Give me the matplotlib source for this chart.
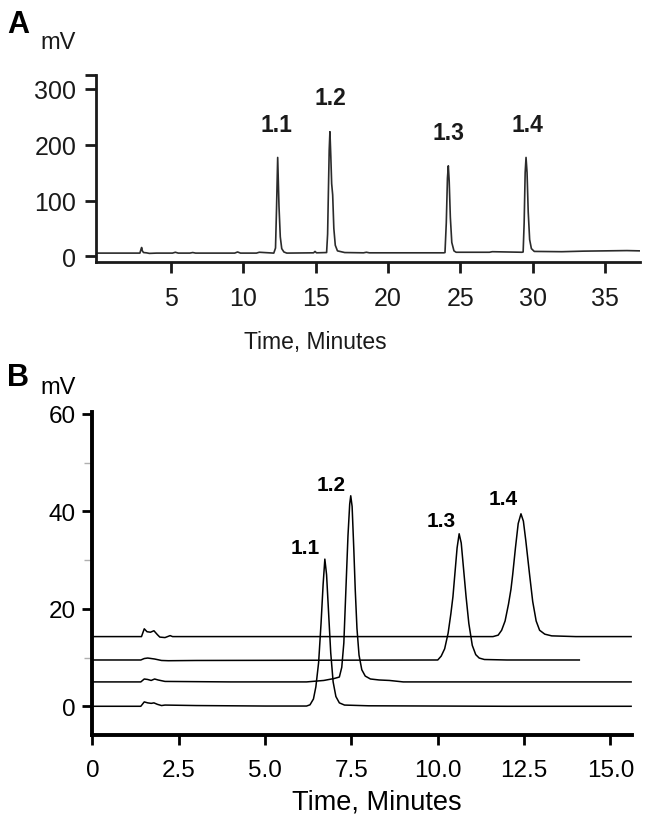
import numpy as np
import matplotlib.pyplot as plt

plt.rcParams["font.family"] = ["Liberation Sans", "DejaVu Sans"]

# ---- panel A: one chromatogram (min, mV)
a_time = [-0.15, 2.85, 2.93, 2.97, 3.02, 3.1, 3.3, 3.5, 4.0, 5.1, 5.3, 5.5,
          6.3, 6.5, 6.7, 9.4, 9.6, 9.8, 10.9, 11.1, 12.1,
          12.22, 12.29, 12.37, 12.46, 12.55, 12.65, 12.8, 13.0,
          14.85, 14.95, 15.05, 15.75, 15.82, 15.87, 15.93, 15.98, 16.04,
          16.1, 16.17, 16.25, 16.35, 16.5, 17.0, 18.3, 18.5, 18.7,
          23.85, 23.93, 24.02, 24.1, 24.16, 24.22, 24.3, 24.4, 24.55, 24.7,
          27.0, 27.2, 29.25, 29.33, 29.4, 29.47, 29.53, 29.6, 29.68, 29.78,
          29.9, 30.1, 32.0, 33.5, 35.0, 36.5, 37.4]
a_mv = [6, 6, 13, 16, 10, 7, 6.5, 5.5, 6, 6, 7.5, 6,
        6, 7, 6, 6, 8, 6, 6, 7.5, 6,
        15, 85, 177, 90, 35, 14, 8, 6,
        6.5, 9, 6.5, 7, 40, 110, 190, 223, 180,
        130, 110, 50, 20, 10, 7, 6.5, 7.5, 6.5,
        6.5, 7, 60, 140, 162, 135, 70, 25, 10, 7.5,
        7.5, 8.5, 7.5, 8, 60, 150, 177, 150, 80, 30,
        14, 9, 8.5, 9.5, 10, 10.5, 10]
a_names = ["1.1", "1.2", "1.3", "1.4"]
a_name_t = [12.26, 15.98, 24.14, 29.6]
a_name_mv = [236, 284, 222, 236]

# ---- panel B: four stacked runs (offset baselines 0, 5, 9.5, 14.3 mV)
b1_time = [0, 1.4, 1.5, 1.6, 1.7, 1.78, 1.88, 2.0, 2.1, 3.0, 5.0, 6.2,
           6.3, 6.4, 6.47, 6.55, 6.62, 6.68, 6.73, 6.78, 6.84, 6.9, 6.97,
           7.05, 7.15, 7.3, 8.0, 12.0, 15.6]
b1_mv = [0, 0, 0.9, 0.7, 0.6, 0.7, 0.4, 0.15, 0.25, 0.15, 0.05, 0.05,
         0.3, 1.5, 4, 9, 17, 25, 30.2, 27, 19, 11, 5,
         2, 0.7, 0.25, 0.1, 0, 0]

b2_time = [0, 1.4, 1.5, 1.6, 1.7, 1.8, 1.9, 2.1, 4.0, 6.2, 6.7, 7.0,
           7.15, 7.22, 7.28, 7.34, 7.4, 7.45, 7.48, 7.52, 7.57, 7.61, 7.66,
           7.72, 7.8, 7.9, 8.05, 8.3, 8.6, 9.0, 15.6]
b2_mv = [5, 5, 5.6, 5.5, 5.3, 5.6, 5.4, 5.1, 5.0, 5.0, 5.3, 5.7,
         6.0, 8, 13, 24, 35, 41.5, 43.2, 41, 32, 24, 16,
         10.5, 7.5, 6.2, 5.6, 5.4, 5.3, 5.0, 5.0]

b3_time = [0, 1.4, 1.5, 1.6, 1.8, 2.0, 2.2, 3.0, 10.0, 10.1, 10.2, 10.3,
           10.38, 10.44, 10.5, 10.56, 10.62, 10.68, 10.75, 10.82, 10.9,
           11.0, 11.1, 11.2, 11.35, 12.0, 14.1]
b3_mv = [9.5, 9.5, 9.8, 9.9, 9.7, 9.4, 9.35, 9.4, 9.5, 10.3, 11.8, 15,
         19, 22.5, 27.5, 32.5, 35.4, 33.5, 28, 22.5, 17,
         12.5, 10.6, 9.9, 9.6, 9.5, 9.5]

b4_time = [0, 1.42, 1.5, 1.58, 1.68, 1.78, 1.88, 1.95, 2.1, 2.25, 2.32,
           11.6, 11.75, 11.85, 11.95, 12.05, 12.12, 12.17, 12.25, 12.33,
           12.41, 12.48, 12.55, 12.66, 12.75, 12.85, 12.95, 13.1, 13.3,
           14.0, 15.6]
b4_mv = [14.3, 14.3, 15.9, 15.3, 15.2, 15.5, 14.7, 14.2, 14.1, 14.5, 14.3,
         14.3, 14.6, 15.6, 17.5, 21, 24, 27, 32.5, 37.5,
         39.5, 38, 34, 27, 21.5, 17.5, 15.6, 14.8, 14.45,
         14.3, 14.3]

b_names = ["1.1", "1.2", "1.3", "1.4"]
b_name_t = [6.15, 6.9, 10.09, 11.9]
b_name_mv = [32.6, 45.6, 38.1, 42.6]

fig = plt.figure(figsize=(6.48, 8.2), dpi=100)

# ---------------- A
ax = fig.add_axes([0.148, 0.679, 0.840, 0.228])
ax.plot(a_time, a_mv, color="#2b2b2b", lw=1.2)
for name, t, v in zip(a_names, a_name_t, a_name_mv):
    ax.text(t, v, name, ha="center", va="center", fontsize=16.5,
            fontweight="bold", color="#1a1a1a")
ax.set_xlim(-0.19, 37.42)
ax.set_ylim(-10.3, 323.9)
ax.set_xticks([5, 10, 15, 20, 25, 30, 35])
ax.set_yticks([0, 100, 200, 300])
ax.set_yticks([323.9], minor=True)
ax.tick_params(axis="both", which="major", direction="out", length=8,
               width=2, labelsize=18, colors="#1a1a1a")
ax.tick_params(axis="y", which="minor", length=8, width=2, color="#1a1a1a")
ax.tick_params(axis="y", pad=6)
ax.tick_params(axis="x", pad=9)
for s in ["top", "right"]:
    ax.spines[s].set_visible(False)
for s in ["left", "bottom"]:
    ax.spines[s].set_linewidth(2.0)
    ax.spines[s].set_color("#1a1a1a")
ax.set_xlabel("Time, Minutes", fontsize=16.5, color="#1a1a1a")
ax.xaxis.set_label_coords(0.404, -0.362)
fig.text(0.011, 0.969, "A", fontsize=22, fontweight="bold", va="center")
fig.text(0.062, 0.947, "mV", fontsize=17, va="center", color="#1a1a1a")

# ---------------- B
bx = fig.add_axes([0.1427, 0.1024, 0.8323, 0.394])
for t, v in [(b1_time, b1_mv), (b2_time, b2_mv), (b3_time, b3_mv),
             (b4_time, b4_mv)]:
    bx.plot(t, v, color="black", lw=1.1)
for name, t, v in zip(b_names, b_name_t, b_name_mv):
    bx.text(t, v, name, ha="center", va="center", fontsize=15,
            fontweight="bold")
bx.set_xlim(0, 15.62)
bx.set_ylim(-5.9, 60.4)
bx.set_xticks([0, 2.5, 5.0, 7.5, 10.0, 12.5, 15.0])
bx.set_xticklabels(["0", "2.5", "5.0", "7.5", "10.0", "12.5", "15.0"])
bx.set_yticks([0, 20, 40, 60])
bx.set_yticks([10, 30, 50], minor=True)
bx.tick_params(axis="both", which="major", direction="out", length=7,
               width=2, labelsize=17.5)
bx.tick_params(axis="y", which="minor", length=6, width=1, color="#b0b0b0")
bx.tick_params(axis="y", pad=5)
bx.tick_params(axis="x", pad=10)
for s in ["top", "right"]:
    bx.spines[s].set_visible(False)
for s in ["left", "bottom"]:
    bx.spines[s].set_linewidth(2.8)
bx.set_xlabel("Time, Minutes", fontsize=19.5)
bx.xaxis.set_label_coords(0.528, -0.165)
fig.text(0.011, 0.539, "B", fontsize=22, fontweight="bold", va="center")
fig.text(0.062, 0.527, "mV", fontsize=17, va="center")

fig.savefig("out.png", dpi=100)
